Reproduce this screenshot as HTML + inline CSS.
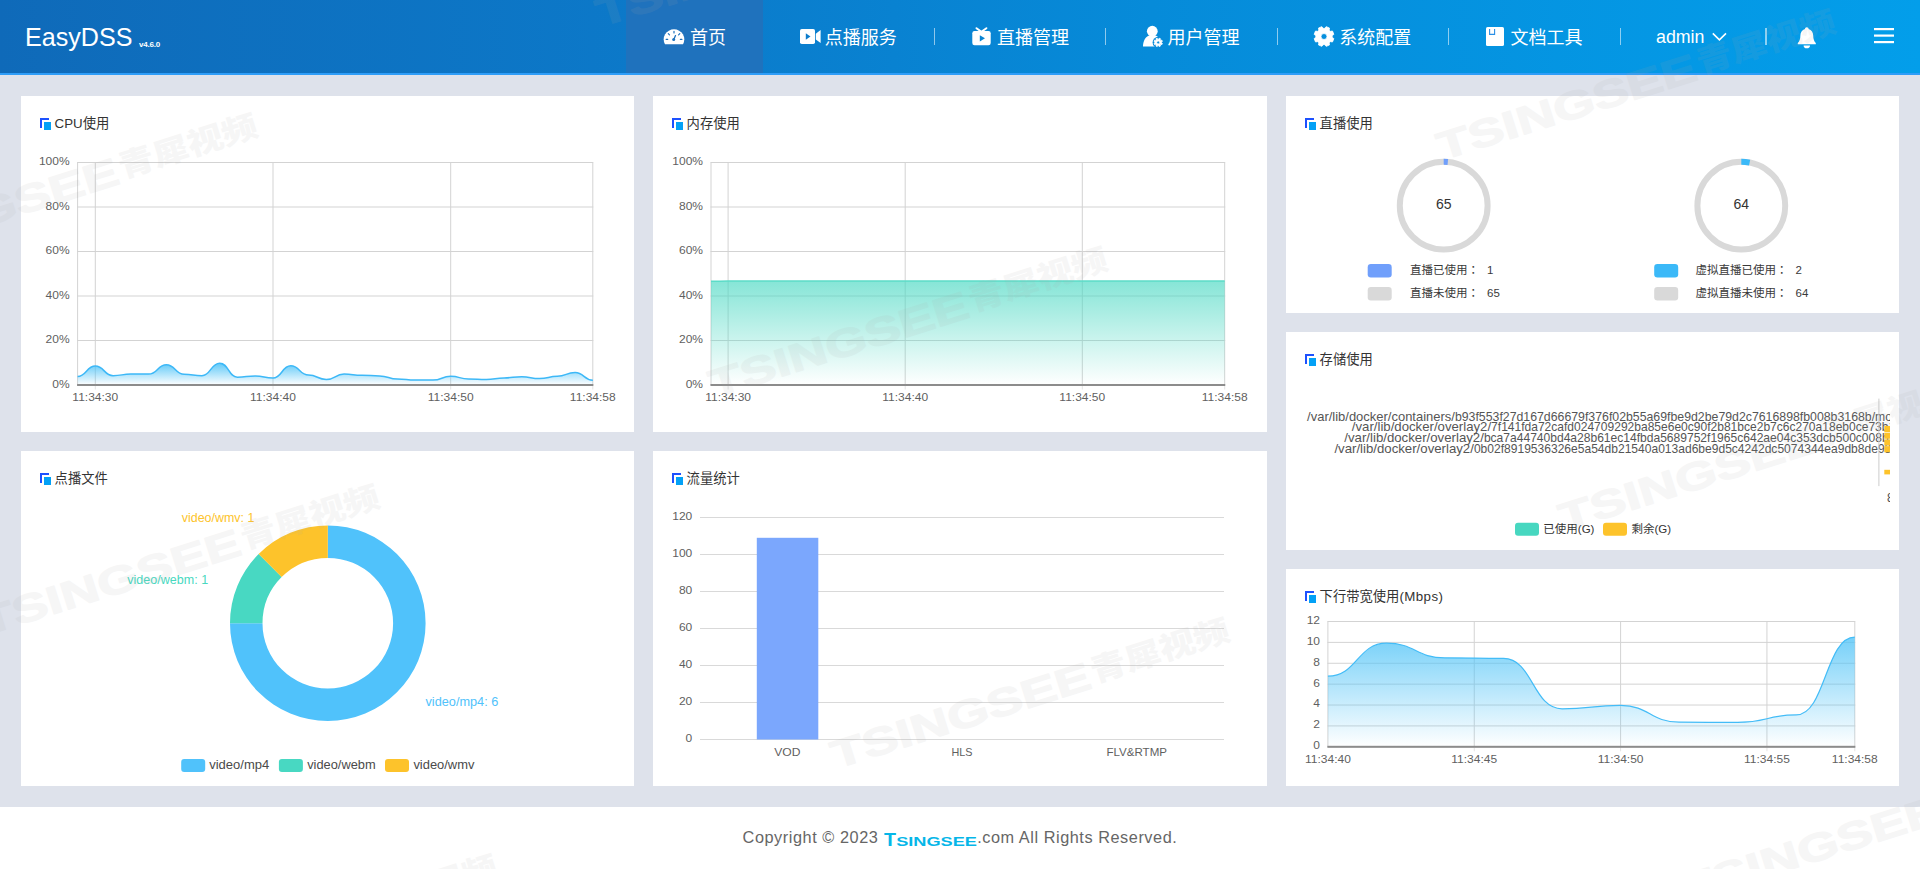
<!DOCTYPE html>
<html lang="zh-CN"><head><meta charset="utf-8"><title>EasyDSS</title>
<style>
*{box-sizing:border-box;margin:0;padding:0}
html,body{width:1920px;height:869px;overflow:hidden}
body{background:#dee2eb;font-family:"Liberation Sans", "Noto Sans CJK SC", sans-serif;position:relative;color:#333}
.hdr{position:absolute;left:0;top:0;width:1920px;height:75px;background:linear-gradient(90deg,#0f6ab9 0%,#0c79c9 33%,#068bd9 60%,#039eea 100%);border-bottom:2px solid #2e9df8}
.logo{position:absolute;left:25px;top:21.9px;font-size:25.1px;line-height:30px;color:#fff;white-space:nowrap}
.ver{position:absolute;left:139px;top:39.6px;font-size:8px;line-height:10px;color:#fff;font-weight:bold;white-space:nowrap;letter-spacing:-0.2px}
.act{position:absolute;left:626px;top:0;width:137px;height:73px;background:#1f72bd}
.nt{position:absolute;top:24.7px;height:26px;line-height:26px;font-size:18px;color:#fff;white-space:nowrap}
.dv{position:absolute;top:28px;width:1px;height:17px;background:rgba(255,255,255,.55)}
.hsvg{position:absolute;left:0;top:0}
.panel{position:absolute;background:#fff;overflow:hidden}
.ticon{position:absolute;left:19px;top:22px}
.ptitle{position:absolute;left:33.6px;top:17.8px;font-size:13.3px;line-height:20px;color:#333;white-space:nowrap}
.chart{position:absolute;left:0;top:0;font-family:"Liberation Sans", "Noto Sans CJK SC", sans-serif}
.ftr{position:absolute;left:0;top:807px;width:1920px;height:62px;background:#fff;font-size:16.3px;line-height:20px;color:#666;white-space:nowrap;letter-spacing:.55px}
.fl{position:absolute;left:742.6px;top:19.7px}
.fr{position:absolute;left:977.2px;top:19.7px}
.flogo{position:absolute;left:884px;top:24px;font-family:"Liberation Sans", "Noto Sans CJK SC", sans-serif;letter-spacing:0}
.wmsvg{position:absolute;left:0;top:0;opacity:.1;pointer-events:none;font-family:"Liberation Sans", "Noto Sans CJK SC", sans-serif}
</style></head><body>

<div class="hdr"><div class="act"></div>
<div class="logo">EasyDSS</div><div class="ver">v4.6.0</div>
<div class="nt" style="left:690px">首页</div>
<div class="nt" style="left:824.8px">点播服务</div>
<div class="nt" style="left:997px">直播管理</div>
<div class="nt" style="left:1167.5px">用户管理</div>
<div class="nt" style="left:1339.2px">系统配置</div>
<div class="nt" style="left:1510.5px">文档工具</div>
<div class="nt" style="left:1656px;top:23.8px;font-size:17.8px">admin</div>
<div class="dv" style="left:934px"></div>
<div class="dv" style="left:1105px"></div>
<div class="dv" style="left:1277px"></div>
<div class="dv" style="left:1448px"></div>
<div class="dv" style="left:1620px"></div>
<div class="dv" style="left:1765px;width:2px"></div>
<svg class="hsvg" width="1920" height="73" viewBox="0 0 1920 73" fill="#fff"><path d="M665 44.2A10.3 10 0 1 1 683 44.2Z"/><g stroke="#1f72bd" stroke-width="1.2" stroke-linecap="round" fill="none"><path d="M674 31.3v1.6M668.3 33.6l1.2 1.3M679.8 33.6l-1.2 1.3M666.2 39.4h1.5M680.4 39.4h1.5"/><path d="M675.5 35.6l-1.6 3.6" stroke-width="1.3"/></g><circle cx="673.7" cy="39.6" r="1.5" fill="#1f72bd"/><rect x="800" y="29" width="15" height="15" rx="1.8"/><path d="M815.8 33.8L820.6 30V43L815.8 39.4Z"/><path d="M805.8 33.3V39.7L810.5 36.5Z" fill="#0b7ccc"/><rect x="972.3" y="31" width="18.4" height="14.2" rx="2.2"/><path d="M976.5 28.2L981.4 31.8L986.4 28.2" fill="none" stroke="#fff" stroke-width="2" stroke-linecap="round"/><path d="M979.8 35.2V41.4L985 38.3Z" fill="#0884d3"/><circle cx="1152.3" cy="31.2" r="5.4"/><path d="M1143 46.6C1143 40 1146 36.2 1150 35.2H1155C1157.5 36 1159 37.5 1160 39.5V46.6Z"/><circle cx="1158.2" cy="42.4" r="5.6" fill="#078bd9"/><path d="M1161.38 42.79L1162.39 43.39L1161.86 44.66L1160.72 44.37L1160.17 44.92L1160.46 46.06L1159.19 46.59L1158.59 45.58L1157.81 45.58L1157.21 46.59L1155.94 46.06L1156.23 44.92L1155.68 44.37L1154.54 44.66L1154.01 43.39L1155.02 42.79L1155.02 42.01L1154.01 41.41L1154.54 40.14L1155.68 40.43L1156.23 39.88L1155.94 38.74L1157.21 38.21L1157.81 39.22L1158.59 39.22L1159.19 38.21L1160.46 38.74L1160.17 39.88L1160.72 40.43L1161.86 40.14L1162.39 41.41L1161.38 42.01ZM1156.7 42.4a1.5 1.5 0 1 0 3 0a1.5 1.5 0 1 0 -3 0Z" fill="#fff" fill-rule="evenodd" stroke="#fff" stroke-width="0.8" stroke-linejoin="round"/><path d="M1332.16 37.34L1333.87 38.63L1332.48 41.98L1330.36 41.68L1329.18 42.86L1329.48 44.98L1326.13 46.37L1324.84 44.66L1323.16 44.66L1321.87 46.37L1318.52 44.98L1318.82 42.86L1317.64 41.68L1315.52 41.98L1314.13 38.63L1315.84 37.34L1315.84 35.66L1314.13 34.37L1315.52 31.02L1317.64 31.32L1318.82 30.14L1318.52 28.02L1321.87 26.63L1323.16 28.34L1324.84 28.34L1326.13 26.63L1329.48 28.02L1329.18 30.14L1330.36 31.32L1332.48 31.02L1333.87 34.37L1332.16 35.66ZM1321 36.5a3 3 0 1 0 6 0a3 3 0 1 0 -6 0Z" fill="#fff" fill-rule="evenodd" stroke="#fff" stroke-width="0.8" stroke-linejoin="round"/><rect x="1486" y="27" width="18" height="19" rx="1.6"/><path d="M1489.6 29v5.4h5V29" fill="none" stroke="#2a8fe6" stroke-width="1.1"/><path d="M1712.8 33.4L1719.4 39.8L1726 33.4" fill="none" stroke="#fff" stroke-width="1.6"/><path d="M1806.8 27.2C1808 27.2 1808.6 28 1808.6 29C1811.6 30 1813.2 32.6 1813.2 35.6C1813.2 39.6 1814.2 41.4 1815.8 43V44.2H1797.8V43C1799.4 41.4 1800.4 39.6 1800.4 35.6C1800.4 32.6 1802 30 1805 29C1805 28 1805.6 27.2 1806.8 27.2Z"/><path d="M1803.6 45.4H1810A3.2 2.8 0 0 1 1803.6 45.4Z"/><rect x="1874" y="28" width="20" height="2.2"/><rect x="1874" y="34.5" width="20" height="2.2"/><rect x="1874" y="41" width="20" height="2.2"/></svg>
</div>
<div class="panel" style="left:21px;top:96px;width:613px;height:336px"><svg class="ticon" width="12" height="12" viewBox="0 0 12 12"><path d="M0 0h9v2h-7v8h-2z" fill="#1d51fe"/><rect x="4" y="4" width="7" height="8" fill="#03a1f6"/></svg><div class="ptitle">CPU使用</div><svg class="chart" width="613" height="336" viewBox="0 0 613 336"><defs><linearGradient id="g1" x1="0" y1="0" x2="0" y2="1"><stop offset="0" stop-color="#4fc3f7" stop-opacity="0.9"/><stop offset="1" stop-color="#4fc3f7" stop-opacity="0"/></linearGradient><clipPath id="cg1"><rect x="55.6" y="64.5" width="516.7" height="226.5"/></clipPath></defs><path d="M56.1 289H572.3M56.1 244.5H572.3M56.1 200H572.3M56.1 155.5H572.3M56.1 111H572.3M56.1 66.5H572.3M56.6 66.5V289M74.3 66.5V289M252 66.5V289M429.7 66.5V289M571.8 66.5V289" stroke="#d3d3d3" stroke-width="1" fill="none"/><path d="M74.3 289V293.5M252 289V293.5M429.7 289V293.5M571.8 289V293.5" stroke="#e4e4e4" stroke-width="1" fill="none"/><g clip-path="url(#cg1)"><path d="M56.6 280.55C65.45 280.55 65.45 270.09 74.3 270.09C83.19 270.09 83.19 279.65 92.07 279.65C100.95 279.65 100.95 278.1 109.84 278.1C118.73 278.1 118.73 278.1 127.61 278.1C136.5 278.1 136.5 268.75 145.38 268.75C154.26 268.75 154.26 278.32 163.15 278.32C172.03 278.32 172.03 279.65 180.92 279.65C189.81 279.65 189.81 267.19 198.69 267.19C207.57 267.19 207.57 281.21 216.46 281.21C225.34 281.21 225.34 279.88 234.23 279.88C243.12 279.88 243.12 282.1 252 282.1C260.88 282.1 260.88 269.87 269.77 269.87C278.65 269.87 278.65 278.99 287.54 278.99C296.43 278.99 296.43 283.44 305.31 283.44C314.19 283.44 314.19 278.1 323.08 278.1C331.97 278.1 331.97 279.21 340.85 279.21C349.74 279.21 349.74 279.88 358.62 279.88C367.5 279.88 367.5 282.99 376.39 282.99C385.27 282.99 385.27 284.11 394.16 284.11C403.05 284.11 403.05 284.11 411.93 284.11C420.81 284.11 420.81 280.32 429.7 280.32C438.59 280.32 438.59 282.99 447.47 282.99C456.36 282.99 456.36 283.44 465.24 283.44C474.12 283.44 474.12 281.88 483.01 281.88C491.89 281.88 491.89 280.77 500.78 280.77C509.66 280.77 509.66 282.55 518.55 282.55C527.43 282.55 527.43 280.32 536.32 280.32C545.2 280.32 545.2 276.54 554.09 276.54C562.97 276.54 562.97 284.33 571.86 284.33L571.86 289L56.6 289Z" fill="url(#g1)"/><path d="M56.6 280.55C65.45 280.55 65.45 270.09 74.3 270.09C83.19 270.09 83.19 279.65 92.07 279.65C100.95 279.65 100.95 278.1 109.84 278.1C118.73 278.1 118.73 278.1 127.61 278.1C136.5 278.1 136.5 268.75 145.38 268.75C154.26 268.75 154.26 278.32 163.15 278.32C172.03 278.32 172.03 279.65 180.92 279.65C189.81 279.65 189.81 267.19 198.69 267.19C207.57 267.19 207.57 281.21 216.46 281.21C225.34 281.21 225.34 279.88 234.23 279.88C243.12 279.88 243.12 282.1 252 282.1C260.88 282.1 260.88 269.87 269.77 269.87C278.65 269.87 278.65 278.99 287.54 278.99C296.43 278.99 296.43 283.44 305.31 283.44C314.19 283.44 314.19 278.1 323.08 278.1C331.97 278.1 331.97 279.21 340.85 279.21C349.74 279.21 349.74 279.88 358.62 279.88C367.5 279.88 367.5 282.99 376.39 282.99C385.27 282.99 385.27 284.11 394.16 284.11C403.05 284.11 403.05 284.11 411.93 284.11C420.81 284.11 420.81 280.32 429.7 280.32C438.59 280.32 438.59 282.99 447.47 282.99C456.36 282.99 456.36 283.44 465.24 283.44C474.12 283.44 474.12 281.88 483.01 281.88C491.89 281.88 491.89 280.77 500.78 280.77C509.66 280.77 509.66 282.55 518.55 282.55C527.43 282.55 527.43 280.32 536.32 280.32C545.2 280.32 545.2 276.54 554.09 276.54C562.97 276.54 562.97 284.33 571.86 284.33" fill="none" stroke="#3db8f7" stroke-width="1.5"/></g><rect x="56.1" y="288" width="516.2" height="2" fill="#8c8c8c"/><g font-size="11.5" fill="#5f5f5f"><text transform="translate(48.6 291.6) scale(1.045 1)" text-anchor="end">0%</text><text transform="translate(48.6 247.1) scale(1.045 1)" text-anchor="end">20%</text><text transform="translate(48.6 202.6) scale(1.045 1)" text-anchor="end">40%</text><text transform="translate(48.6 158.1) scale(1.045 1)" text-anchor="end">60%</text><text transform="translate(48.6 113.6) scale(1.045 1)" text-anchor="end">80%</text><text transform="translate(48.6 69.1) scale(1.045 1)" text-anchor="end">100%</text><text transform="translate(74.3 305) scale(1.045 1)" text-anchor="middle">11:34:30</text><text transform="translate(252 305) scale(1.045 1)" text-anchor="middle">11:34:40</text><text transform="translate(429.7 305) scale(1.045 1)" text-anchor="middle">11:34:50</text><text transform="translate(571.8 305) scale(1.045 1)" text-anchor="middle">11:34:58</text></g></svg></div>
<div class="panel" style="left:653px;top:96px;width:614px;height:336px"><svg class="ticon" width="12" height="12" viewBox="0 0 12 12"><path d="M0 0h9v2h-7v8h-2z" fill="#1d51fe"/><rect x="4" y="4" width="7" height="8" fill="#03a1f6"/></svg><div class="ptitle">内存使用</div><svg class="chart" width="614" height="336" viewBox="0 0 614 336"><defs><linearGradient id="g2" x1="0" y1="0" x2="0" y2="1"><stop offset="0" stop-color="#48d8c2" stop-opacity="0.66"/><stop offset="1" stop-color="#48d8c2" stop-opacity="0"/></linearGradient><clipPath id="cg2"><rect x="57" y="64.5" width="515.2" height="226.5"/></clipPath></defs><path d="M57.5 289H572.2M57.5 244.5H572.2M57.5 200H572.2M57.5 155.5H572.2M57.5 111H572.2M57.5 66.5H572.2M58 66.5V289M75.1 66.5V289M252.2 66.5V289M429.3 66.5V289M571.7 66.5V289" stroke="#d3d3d3" stroke-width="1" fill="none"/><path d="M75.1 289V293.5M252.2 289V293.5M429.3 289V293.5M571.7 289V293.5" stroke="#e4e4e4" stroke-width="1" fill="none"/><g clip-path="url(#cg2)"><path d="M58 185.28C66.55 185.28 66.55 184.98 75.1 184.98C194.98 184.98 194.98 184.98 314.85 184.98C443.28 184.98 443.28 184.98 571.7 184.98L571.7 289L58 289Z" fill="url(#g2)"/><path d="M58 185.28C66.55 185.28 66.55 184.98 75.1 184.98C194.98 184.98 194.98 184.98 314.85 184.98C443.28 184.98 443.28 184.98 571.7 184.98" fill="none" stroke="#5cdcc8" stroke-width="1.5"/></g><rect x="57.5" y="288" width="514.7" height="2" fill="#8c8c8c"/><g font-size="11.5" fill="#5f5f5f"><text transform="translate(50 291.6) scale(1.045 1)" text-anchor="end">0%</text><text transform="translate(50 247.1) scale(1.045 1)" text-anchor="end">20%</text><text transform="translate(50 202.6) scale(1.045 1)" text-anchor="end">40%</text><text transform="translate(50 158.1) scale(1.045 1)" text-anchor="end">60%</text><text transform="translate(50 113.6) scale(1.045 1)" text-anchor="end">80%</text><text transform="translate(50 69.1) scale(1.045 1)" text-anchor="end">100%</text><text transform="translate(75.1 305) scale(1.045 1)" text-anchor="middle">11:34:30</text><text transform="translate(252.2 305) scale(1.045 1)" text-anchor="middle">11:34:40</text><text transform="translate(429.3 305) scale(1.045 1)" text-anchor="middle">11:34:50</text><text transform="translate(571.7 305) scale(1.045 1)" text-anchor="middle">11:34:58</text></g></svg></div>
<div class="panel" style="left:1286px;top:96px;width:613px;height:217px"><svg class="ticon" width="12" height="12" viewBox="0 0 12 12"><path d="M0 0h9v2h-7v8h-2z" fill="#1d51fe"/><rect x="4" y="4" width="7" height="8" fill="#03a1f6"/></svg><div class="ptitle">直播使用</div><svg class="chart" width="613" height="217" viewBox="0 0 613 217"><circle cx="157.7" cy="109.7" r="43.9" fill="none" stroke="#d9d9d9" stroke-width="6"/><circle cx="157.7" cy="109.7" r="43.9" fill="none" stroke="#709ffb" stroke-width="6" stroke-dasharray="4.18 275.83" transform="rotate(-90 157.7 109.7)"/><circle cx="455.3" cy="109.7" r="43.9" fill="none" stroke="#d9d9d9" stroke-width="6"/><circle cx="455.3" cy="109.7" r="43.9" fill="none" stroke="#3bb9f8" stroke-width="6" stroke-dasharray="8.36 275.83" transform="rotate(-90 455.3 109.7)"/><g font-size="14" fill="#333" text-anchor="middle"><text x="157.7" y="112.8">65</text><text x="455.3" y="112.8">64</text></g><rect x="81.7" y="168" width="24" height="13.4" rx="3.2" fill="#709ffb"/><rect x="81.7" y="191" width="24" height="13.4" rx="3.2" fill="#d9d9d9"/><rect x="368.2" y="168" width="24" height="13.4" rx="3.2" fill="#3bb9f8"/><rect x="368.2" y="191" width="24" height="13.4" rx="3.2" fill="#d9d9d9"/><g font-size="11.5" fill="#3a3a3a"><text x="124" y="177.8">直播已使用<tspan lang="ja" font-family="Noto Sans CJK JP">：</tspan></text><text x="124" y="200.8">直播未使用<tspan lang="ja" font-family="Noto Sans CJK JP">：</tspan></text><text x="409.5" y="177.8">虚拟直播已使用<tspan lang="ja" font-family="Noto Sans CJK JP">：</tspan></text><text x="409.5" y="200.8">虚拟直播未使用<tspan lang="ja" font-family="Noto Sans CJK JP">：</tspan></text><text x="201" y="177.8">1</text><text x="201" y="200.8">65</text><text x="509.5" y="177.8">2</text><text x="509.5" y="200.8">64</text></g></svg></div>
<div class="panel" style="left:1286px;top:332px;width:613px;height:218px"><svg class="ticon" width="12" height="12" viewBox="0 0 12 12"><path d="M0 0h9v2h-7v8h-2z" fill="#1d51fe"/><rect x="4" y="4" width="7" height="8" fill="#03a1f6"/></svg><div class="ptitle">存储使用</div><svg class="chart" width="604" height="218" viewBox="0 0 604 218"><g font-size="12.2" fill="#555"><text y="88.5"><tspan x="21.1" textLength="147.8" lengthAdjust="spacingAndGlyphs">/var/lib/docker/containers/</tspan><tspan x="168.9" textLength="416.8" lengthAdjust="spacingAndGlyphs">b93f553f27d167d66679f376f02b55a69fbe9d2be79d2c7616898fb008b3168b</tspan><tspan x="585.7">/mounts/shm</tspan></text><text y="99.1"><tspan x="65.8" textLength="139.3" lengthAdjust="spacingAndGlyphs">/var/lib/docker/overlay2/</tspan><tspan x="205.1" textLength="397.4" lengthAdjust="spacingAndGlyphs">7f141fda72cafd024709292ba85e6e0c90f2b81bce2b7c6c270a18eb0ce73b</tspan><tspan x="602.5">1c/merged</tspan></text><text y="109.9"><tspan x="58.3" textLength="139.6" lengthAdjust="spacingAndGlyphs">/var/lib/docker/overlay2/</tspan><tspan x="197.9" textLength="404.8" lengthAdjust="spacingAndGlyphs">bca7a44740bd4a28b61ec14fbda5689752f1965c642ae04c353dcb500c008b</tspan><tspan x="602.7">2e/merged</tspan></text><text y="120.6"><tspan x="48.4" textLength="139.5" lengthAdjust="spacingAndGlyphs">/var/lib/docker/overlay2/</tspan><tspan x="187.9" textLength="410.7" lengthAdjust="spacingAndGlyphs">0b02f8919536326e5a54db21540a013ad6be9d5c4242dc5074344ea9db8de9</tspan><tspan x="598.6">3f/merged</tspan></text></g><rect x="592.4" y="66.6" width="1" height="87.5" fill="#ccc"/><rect x="598.3" y="93.9" width="6" height="6.1" fill="#fdc32b"/><rect x="598.3" y="100.65" width="6" height="6.1" fill="#fdc32b"/><rect x="598.3" y="107.4" width="6" height="6.1" fill="#fdc32b"/><rect x="598.3" y="114.15" width="6" height="6.1" fill="#fdc32b"/><rect x="598.3" y="137.8" width="6" height="4.6" fill="#fdc32b"/><text x="601" y="170" font-size="12" fill="#4d4d4d">80</text><rect x="229" y="190.7" width="24" height="13" rx="3" fill="#47d7c0"/><rect x="317" y="190.7" width="24" height="13" rx="3" fill="#fdc32b"/><g font-size="11.5" fill="#333"><text x="257.3" y="201">已使用(G)</text><text x="345.5" y="201">剩余(G)</text></g></svg></div>
<div class="panel" style="left:1286px;top:569px;width:613px;height:217px"><svg class="ticon" width="12" height="12" viewBox="0 0 12 12"><path d="M0 0h9v2h-7v8h-2z" fill="#1d51fe"/><rect x="4" y="4" width="7" height="8" fill="#03a1f6"/></svg><div class="ptitle">下行带宽使用<span style="letter-spacing:.45px">(Mbps)</span></div><svg class="chart" width="613" height="217" viewBox="0 0 613 217"><defs><linearGradient id="g5" x1="0" y1="0" x2="0" y2="1"><stop offset="0" stop-color="#4fc3f7" stop-opacity="0.78"/><stop offset="1" stop-color="#4fc3f7" stop-opacity="0"/></linearGradient><clipPath id="cg5"><rect x="40.9" y="50.5" width="528.4" height="129.3"/></clipPath></defs><path d="M41.4 177.8H569.3M41.4 156.92H569.3M41.4 136.03H569.3M41.4 115.15H569.3M41.4 94.27H569.3M41.4 73.38H569.3M41.4 52.5H569.3M41.9 52.5V177.8M188.25 52.5V177.8M334.6 52.5V177.8M480.95 52.5V177.8M568.8 52.5V177.8" stroke="#d3d3d3" stroke-width="1" fill="none"/><path d="M188.25 177.8V182.3M334.6 177.8V182.3M480.95 177.8V182.3M568.8 177.8V182.3" stroke="#e4e4e4" stroke-width="1" fill="none"/><g clip-path="url(#cg5)"><path d="M41.9 107.21C71.17 107.21 71.17 74.22 100.44 74.22C129.71 74.22 129.71 88.84 158.98 88.84C188.25 88.84 188.25 89.46 217.52 89.46C246.79 89.46 246.79 139.79 276.06 139.79C305.33 139.79 305.33 136.45 334.6 136.45C363.87 136.45 363.87 153.16 393.14 153.16C422.41 153.16 422.41 153.47 451.68 153.47C480.95 153.47 480.95 145.95 510.22 145.95C539.51 145.95 539.51 68.16 568.8 68.16L568.8 177.8L41.9 177.8Z" fill="url(#g5)"/><path d="M41.9 107.21C71.17 107.21 71.17 74.22 100.44 74.22C129.71 74.22 129.71 88.84 158.98 88.84C188.25 88.84 188.25 89.46 217.52 89.46C246.79 89.46 246.79 139.79 276.06 139.79C305.33 139.79 305.33 136.45 334.6 136.45C363.87 136.45 363.87 153.16 393.14 153.16C422.41 153.16 422.41 153.47 451.68 153.47C480.95 153.47 480.95 145.95 510.22 145.95C539.51 145.95 539.51 68.16 568.8 68.16" fill="none" stroke="#43bcf7" stroke-width="1.2"/></g><rect x="41.4" y="176.8" width="527.9" height="2" fill="#8c8c8c"/><g font-size="11.5" fill="#5f5f5f"><text transform="translate(34 180.2) scale(1.045 1)" text-anchor="end">0</text><text transform="translate(34 159.32) scale(1.045 1)" text-anchor="end">2</text><text transform="translate(34 138.43) scale(1.045 1)" text-anchor="end">4</text><text transform="translate(34 117.55) scale(1.045 1)" text-anchor="end">6</text><text transform="translate(34 96.67) scale(1.045 1)" text-anchor="end">8</text><text transform="translate(34 75.78) scale(1.045 1)" text-anchor="end">10</text><text transform="translate(34 54.9) scale(1.045 1)" text-anchor="end">12</text><text transform="translate(41.9 193.8) scale(1.045 1)" text-anchor="middle">11:34:40</text><text transform="translate(188.25 193.8) scale(1.045 1)" text-anchor="middle">11:34:45</text><text transform="translate(334.6 193.8) scale(1.045 1)" text-anchor="middle">11:34:50</text><text transform="translate(480.95 193.8) scale(1.045 1)" text-anchor="middle">11:34:55</text><text transform="translate(568.8 193.8) scale(1.045 1)" text-anchor="middle">11:34:58</text></g></svg></div>
<div class="panel" style="left:21px;top:451px;width:613px;height:335px"><svg class="ticon" width="12" height="12" viewBox="0 0 12 12"><path d="M0 0h9v2h-7v8h-2z" fill="#1d51fe"/><rect x="4" y="4" width="7" height="8" fill="#03a1f6"/></svg><div class="ptitle">点播文件</div><svg class="chart" width="613" height="335" viewBox="0 0 613 335"><path d="M306.8 74.4A97.8 97.8 0 1 1 209 172.2L241.5 172.2A65.3 65.3 0 1 0 306.8 106.9Z" fill="#50c2fb"/><path d="M209 172.2A97.8 97.8 0 0 1 237.64 103.04L260.63 126.03A65.3 65.3 0 0 0 241.5 172.2Z" fill="#48d8c2"/><path d="M237.64 103.04A97.8 97.8 0 0 1 306.8 74.4L306.8 106.9A65.3 65.3 0 0 0 260.63 126.03Z" fill="#fdc32b"/><g font-size="12"><text x="160.8" y="71.2" fill="#fdc32b" textLength="72.6" lengthAdjust="spacingAndGlyphs">video/wmv: 1</text><text x="106.3" y="132.5" fill="#48d8c0" textLength="80.8" lengthAdjust="spacingAndGlyphs">video/webm: 1</text><text x="404.5" y="255" fill="#50c2fb" textLength="72.8" lengthAdjust="spacingAndGlyphs">video/mp4: 6</text></g><rect x="160.2" y="308" width="24" height="13" rx="3" fill="#50c2fb"/><rect x="257.9" y="308" width="24" height="13" rx="3" fill="#48d8c2"/><rect x="364" y="308" width="24" height="13" rx="3" fill="#fdc32b"/><g font-size="12" fill="#4a4a4a" lengthAdjust="spacingAndGlyphs"><text x="188.2" y="318.4" textLength="60" lengthAdjust="spacingAndGlyphs">video/mp4</text><text x="286.2" y="318.4" textLength="68.4" lengthAdjust="spacingAndGlyphs">video/webm</text><text x="392.4" y="318.4" textLength="61" lengthAdjust="spacingAndGlyphs">video/wmv</text></g></svg></div>
<div class="panel" style="left:653px;top:451px;width:614px;height:335px"><svg class="ticon" width="12" height="12" viewBox="0 0 12 12"><path d="M0 0h9v2h-7v8h-2z" fill="#1d51fe"/><rect x="4" y="4" width="7" height="8" fill="#03a1f6"/></svg><div class="ptitle">流量统计</div><svg class="chart" width="614" height="335" viewBox="0 0 614 335"><path d="M47 288.5H571M47 251.5H571M47 214.5H571M47 177.5H571M47 140.5H571M47 103.5H571M47 66.5H571" stroke="#d9d9d9" stroke-width="1" fill="none" shape-rendering="crispEdges"/><rect x="103.8" y="86.8" width="61.5" height="201.7" fill="#7ba7fd"/><g font-size="11.5" fill="#5f5f5f"><text transform="translate(39.3 291.2) scale(1.045 1)" text-anchor="end">0</text><text transform="translate(39.3 254.2) scale(1.045 1)" text-anchor="end">20</text><text transform="translate(39.3 217.2) scale(1.045 1)" text-anchor="end">40</text><text transform="translate(39.3 180.2) scale(1.045 1)" text-anchor="end">60</text><text transform="translate(39.3 143.2) scale(1.045 1)" text-anchor="end">80</text><text transform="translate(39.3 106.2) scale(1.045 1)" text-anchor="end">100</text><text transform="translate(39.3 69.2) scale(1.045 1)" text-anchor="end">120</text><text x="134.3" y="305.2" text-anchor="middle" textLength="26.2" lengthAdjust="spacingAndGlyphs">VOD</text><text x="309" y="305.2" text-anchor="middle" textLength="21" lengthAdjust="spacingAndGlyphs">HLS</text><text x="483.7" y="305.2" text-anchor="middle" textLength="60.6" lengthAdjust="spacingAndGlyphs">FLV&amp;RTMP</text></g></svg></div>
<div class="ftr"><span class="fl">Copyright © 2023</span><svg class="flogo" width="96" height="20" viewBox="0 0 96 20"><g fill="#05b6e8" font-weight="bold"><text x="0" y="14.9" font-size="18.2" textLength="12" lengthAdjust="spacingAndGlyphs">T</text><text x="12.2" y="14.9" font-size="13.2" textLength="80.8" lengthAdjust="spacingAndGlyphs">SINGSEE</text></g></svg><span class="fr">.com All Rights Reserved.</span></div>
<svg class="wmsvg" width="1920" height="869" viewBox="0 0 1920 869"><g fill="#aaa" stroke="#aaa" stroke-width="1.2" stroke-linejoin="round" font-weight="bold"><g transform="translate(-136 264.5) rotate(-17.5)"><text x="0" y="0" font-size="39" textLength="270" lengthAdjust="spacingAndGlyphs">TSINGSEE</text><text x="272.5" y="-4.5" font-size="31" font-weight="900" stroke="none" textLength="144" lengthAdjust="spacingAndGlyphs">青犀视频</text></g><g transform="translate(714 398) rotate(-17.5)"><text x="0" y="0" font-size="39" textLength="270" lengthAdjust="spacingAndGlyphs">TSINGSEE</text><text x="272.5" y="-4.5" font-size="31" font-weight="900" stroke="none" textLength="144" lengthAdjust="spacingAndGlyphs">青犀视频</text></g><g transform="translate(1442 160.5) rotate(-17.5)"><text x="0" y="0" font-size="39" textLength="270" lengthAdjust="spacingAndGlyphs">TSINGSEE</text><text x="272.5" y="-4.5" font-size="31" font-weight="900" stroke="none" textLength="144" lengthAdjust="spacingAndGlyphs">青犀视频</text></g><g transform="translate(-14 635.5) rotate(-17.5)"><text x="0" y="0" font-size="39" textLength="270" lengthAdjust="spacingAndGlyphs">TSINGSEE</text><text x="272.5" y="-4.5" font-size="31" font-weight="900" stroke="none" textLength="144" lengthAdjust="spacingAndGlyphs">青犀视频</text></g><g transform="translate(836 769) rotate(-17.5)"><text x="0" y="0" font-size="39" textLength="270" lengthAdjust="spacingAndGlyphs">TSINGSEE</text><text x="272.5" y="-4.5" font-size="31" font-weight="900" stroke="none" textLength="144" lengthAdjust="spacingAndGlyphs">青犀视频</text></g><g transform="translate(1564 531.5) rotate(-17.5)"><text x="0" y="0" font-size="39" textLength="270" lengthAdjust="spacingAndGlyphs">TSINGSEE</text><text x="272.5" y="-4.5" font-size="31" font-weight="900" stroke="none" textLength="144" lengthAdjust="spacingAndGlyphs">青犀视频</text></g><g transform="translate(601 27) rotate(-17.5)"><text x="0" y="0" font-size="39" textLength="270" lengthAdjust="spacingAndGlyphs">TSINGSEE</text><text x="272.5" y="-4.5" font-size="31" font-weight="900" stroke="none" textLength="144" lengthAdjust="spacingAndGlyphs">青犀视频</text></g><g transform="translate(1686 902.5) rotate(-17.5)"><text x="0" y="0" font-size="39" textLength="270" lengthAdjust="spacingAndGlyphs">TSINGSEE</text><text x="272.5" y="-4.5" font-size="31" font-weight="900" stroke="none" textLength="144" lengthAdjust="spacingAndGlyphs">青犀视频</text></g><g transform="translate(104 1005.5) rotate(-17.5)"><text x="0" y="0" font-size="39" textLength="270" lengthAdjust="spacingAndGlyphs">TSINGSEE</text><text x="272.5" y="-4.5" font-size="31" font-weight="900" stroke="none" textLength="144" lengthAdjust="spacingAndGlyphs">青犀视频</text></g></g></svg>
</body></html>
